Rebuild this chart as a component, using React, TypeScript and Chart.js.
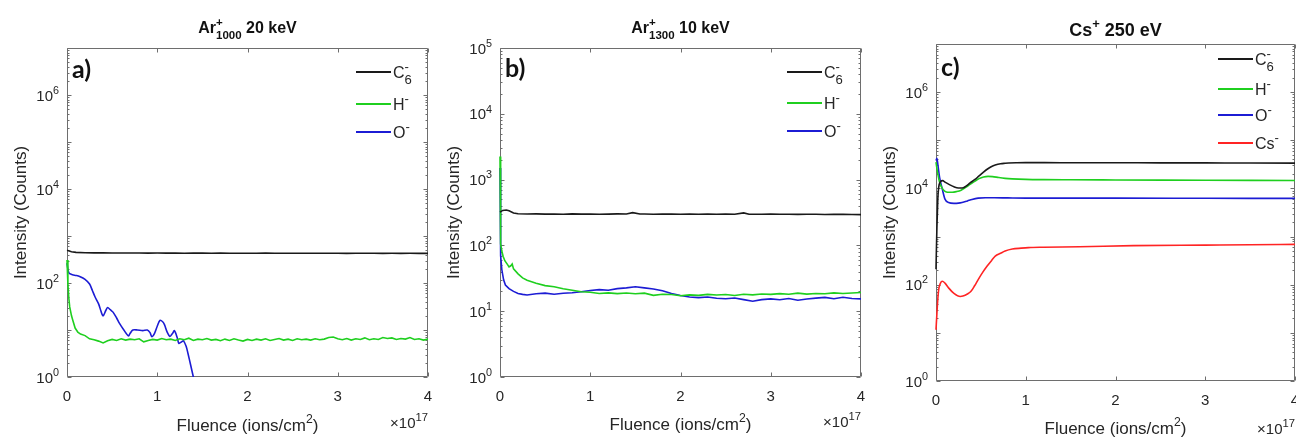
import React, { useEffect, useRef } from 'react';
import { Chart, registerables } from 'chart.js';

Chart.register(...registerables);

type Pt = [number, number];
type Seg = { t: string; m?: 'sup' | 'sub'; stack?: boolean };

// ---------- tick labels ----------
const xTickValues = [0, 1, 2, 3, 4];
const xTickLabels = ['0', '1', '2', '3', '4'];
const yTickExpsWide = [0, 2, 4, 6];
const yTickExpsNarrow = [0, 1, 2, 3, 4, 5];

// ---------- panel a: Ar1000+ 20 keV ----------
const aC6: Pt[] = [[0, 495], [0.05, 462], [0.1, 448], [0.2, 440], [0.3, 437], [0.4, 438], [0.5, 435], [0.6, 436], [0.7, 434], [0.8, 436], [0.9, 433], [1.0, 434], [1.1, 432], [1.2, 434], [1.3, 431], [1.4, 433], [1.5, 432], [1.6, 430], [1.7, 432], [1.8, 431], [1.9, 429], [2.0, 431], [2.1, 430], [2.2, 432], [2.3, 429], [2.4, 430], [2.5, 428], [2.6, 430], [2.7, 429], [2.8, 431], [2.9, 428], [3.0, 429], [3.1, 427], [3.2, 429], [3.3, 428], [3.4, 430], [3.5, 427], [3.6, 428], [3.7, 426], [3.8, 428], [3.9, 427], [4.0, 426]];
const aH: Pt[] = [[0, 310], [0.01, 95], [0.02, 48], [0.03, 31], [0.05, 20], [0.065, 16], [0.09, 11], [0.12, 9], [0.15, 8.2], [0.2, 7.6], [0.25, 6.5], [0.3, 6.2], [0.35, 5.8], [0.4, 5.3], [0.45, 5.9], [0.5, 6.3], [0.55, 6.0], [0.6, 6.5], [0.65, 6.1], [0.7, 6.4], [0.75, 6.2], [0.8, 6.5], [0.85, 5.6], [0.9, 6.0], [0.95, 6.3], [1.0, 6.1], [1.05, 6.6], [1.1, 6.2], [1.15, 6.4], [1.2, 6.0], [1.25, 6.5], [1.3, 6.2], [1.35, 6.7], [1.4, 6.0], [1.45, 6.4], [1.5, 6.2], [1.55, 6.6], [1.6, 6.1], [1.65, 6.3], [1.7, 5.9], [1.75, 6.4], [1.8, 6.0], [1.85, 6.5], [1.9, 6.1], [1.95, 5.8], [2.0, 6.3], [2.05, 6.0], [2.1, 6.4], [2.15, 6.1], [2.2, 6.5], [2.25, 6.0], [2.3, 6.3], [2.35, 6.6], [2.4, 6.1], [2.45, 6.4], [2.5, 6.0], [2.55, 6.5], [2.6, 6.2], [2.65, 6.4], [2.7, 6.1], [2.75, 6.5], [2.8, 6.2], [2.85, 6.4], [2.9, 6.9], [2.95, 7.1], [3.0, 6.5], [3.05, 6.2], [3.1, 6.6], [3.15, 6.1], [3.2, 6.5], [3.25, 6.3], [3.3, 6.8], [3.35, 6.2], [3.4, 6.5], [3.45, 6.3], [3.5, 6.9], [3.55, 6.6], [3.6, 6.8], [3.65, 6.3], [3.7, 6.6], [3.75, 6.4], [3.8, 6.9], [3.85, 6.3], [3.9, 6.5], [3.95, 6.1], [4.0, 6.4]];
const aO: Pt[] = [[0, 265], [0.02, 165], [0.06, 150], [0.1, 145], [0.14, 138], [0.2, 120], [0.25, 95], [0.28, 70], [0.31, 51], [0.35, 36], [0.38, 24], [0.4, 20], [0.43, 26], [0.45, 30], [0.48, 27], [0.51, 24], [0.55, 18], [0.58, 14], [0.63, 10], [0.68, 7.5], [0.7, 8.5], [0.73, 10], [0.78, 10], [0.84, 9.7], [0.89, 10], [0.92, 8.8], [0.94, 7.2], [0.97, 8.5], [1.0, 12], [1.03, 16], [1.06, 15], [1.08, 13], [1.11, 9], [1.14, 7.3], [1.17, 8.5], [1.19, 9.7], [1.22, 7], [1.24, 5.2], [1.27, 5.6], [1.29, 5.9], [1.32, 4.5], [1.34, 3.2], [1.37, 1.8], [1.4, 1.0], [1.42, 0.7]];

// ---------- panel b: Ar1300+ 10 keV ----------
const bC6: Pt[] = [[0, 320], [0.03, 340], [0.07, 345], [0.1, 335], [0.15, 310], [0.2, 302], [0.3, 300], [0.4, 301], [0.5, 299], [0.6, 300], [0.7, 298], [0.8, 301], [0.9, 299], [1.0, 300], [1.1, 298], [1.2, 299], [1.3, 301], [1.4, 300], [1.47, 315], [1.55, 300], [1.6, 300], [1.7, 298], [1.8, 300], [1.9, 299], [2.0, 297], [2.1, 299], [2.2, 298], [2.3, 300], [2.4, 297], [2.5, 299], [2.6, 298], [2.7, 312], [2.76, 298], [2.8, 298], [2.9, 297], [3.0, 299], [3.1, 297], [3.2, 298], [3.3, 296], [3.4, 298], [3.5, 297], [3.6, 295], [3.7, 297], [3.8, 296], [3.9, 295], [4.0, 294]];
const bH: Pt[] = [[0, 2250], [0.004, 500], [0.01, 105], [0.02, 82], [0.035, 68], [0.055, 58], [0.08, 52], [0.1, 47], [0.12, 49], [0.135, 52], [0.15, 44], [0.2, 37], [0.25, 32], [0.3, 29.5], [0.4, 26.5], [0.5, 24.5], [0.6, 23.5], [0.7, 22.0], [0.8, 20.8], [0.9, 19.8], [1.0, 19.4], [1.1, 18.6], [1.2, 19.0], [1.3, 18.5], [1.4, 18.9], [1.5, 18.4], [1.6, 18.8], [1.7, 17.4], [1.8, 18.1], [1.9, 17.9], [2.0, 17.2], [2.1, 17.7], [2.2, 17.4], [2.3, 18.0], [2.4, 17.6], [2.5, 17.9], [2.6, 17.3], [2.7, 18.1], [2.8, 17.7], [2.9, 18.3], [3.0, 18.0], [3.1, 18.5], [3.2, 18.1], [3.3, 18.8], [3.4, 18.2], [3.5, 18.6], [3.6, 18.4], [3.7, 19.0], [3.8, 18.6], [3.9, 18.9], [4.0, 19.2]];
const bO: Pt[] = [[0, 1500], [0.004, 250], [0.01, 70], [0.02, 43], [0.04, 30], [0.06, 25], [0.1, 22], [0.15, 20], [0.2, 18.6], [0.25, 18.0], [0.3, 17.6], [0.4, 18.4], [0.5, 18.8], [0.6, 18.1], [0.7, 18.7], [0.8, 19.1], [0.9, 19.8], [1.0, 20.6], [1.1, 21.3], [1.2, 20.8], [1.3, 22.0], [1.4, 22.6], [1.5, 23.5], [1.6, 22.6], [1.7, 21.8], [1.8, 20.4], [1.9, 18.6], [2.0, 17.3], [2.1, 16.4], [2.2, 16.1], [2.3, 16.4], [2.4, 15.7], [2.5, 15.5], [2.6, 15.9], [2.7, 15.0], [2.8, 14.2], [2.9, 15.0], [3.0, 15.4], [3.1, 14.9], [3.2, 15.6], [3.3, 14.7], [3.4, 15.3], [3.5, 15.8], [3.6, 16.2], [3.7, 15.5], [3.8, 16.3], [3.9, 15.6], [4.0, 15.4]];

// ---------- panel c: Cs+ 250 eV ----------
const cC6: Pt[] = [[0, 210], [0.01, 1500], [0.02, 6000], [0.03, 10500], [0.05, 13800], [0.075, 14500], [0.1, 13500], [0.15, 12000], [0.2, 10800], [0.25, 10200], [0.29, 10200], [0.33, 11000], [0.38, 13000], [0.43, 15200], [0.47, 17500], [0.52, 21000], [0.57, 25000], [0.62, 28500], [0.66, 30500], [0.72, 32500], [0.77, 33300], [0.81, 33800], [0.9, 34200], [1.0, 34300], [1.2, 34300], [1.5, 34200], [2.0, 34100], [2.5, 34000], [3.0, 33900], [3.5, 33800], [4.0, 33600]];
const cH: Pt[] = [[0, 35000], [0.02, 20000], [0.04, 13500], [0.07, 10000], [0.1, 8700], [0.13, 8300], [0.18, 8300], [0.23, 8600], [0.28, 9200], [0.33, 10500], [0.38, 12200], [0.43, 14000], [0.48, 16000], [0.53, 17300], [0.58, 17800], [0.63, 17600], [0.7, 16800], [0.77, 16200], [0.85, 15800], [1.0, 15400], [1.2, 15200], [1.5, 15100], [2.0, 15000], [3.0, 14800], [4.0, 14600]];
const cO: Pt[] = [[0, 38000], [0.01, 42000], [0.02, 32000], [0.04, 17000], [0.07, 9700], [0.1, 6000], [0.14, 5100], [0.2, 4900], [0.25, 4950], [0.29, 5100], [0.35, 5500], [0.4, 5900], [0.47, 6300], [0.55, 6400], [0.65, 6400], [0.8, 6350], [1.0, 6300], [1.5, 6300], [2.0, 6300], [3.0, 6250], [4.0, 6200]];
const cCs: Pt[] = [[0, 11.6], [0.01, 25], [0.02, 50], [0.03, 79], [0.05, 108], [0.07, 118], [0.1, 108], [0.14, 86], [0.2, 66], [0.27, 57], [0.3, 58], [0.35, 64], [0.39, 73], [0.43, 95], [0.47, 128], [0.52, 180], [0.57, 244], [0.62, 320], [0.66, 392], [0.72, 450], [0.77, 500], [0.85, 550], [0.95, 575], [1.03, 590], [1.2, 600], [1.6, 615], [2.2, 650], [3.0, 665], [3.5, 675], [4.0, 690]];

// ---------- styling ----------
const FONT = '"Liberation Sans", Arial, sans-serif';
const TEXT = '#262626';
const AXIS = '#6e6e6e';
const COL = { C6: '#1a1a1a', H: '#1fcf1f', O: '#1c1cd4', Cs: '#ff2424' };
const H = 438;

const lblC6: Seg[] = [{ t: 'C' }, { t: '-', m: 'sup', stack: true }, { t: '6', m: 'sub' }];
const lblH: Seg[] = [{ t: 'H' }, { t: '-', m: 'sup' }];
const lblO: Seg[] = [{ t: 'O' }, { t: '-', m: 'sup' }];
const lblCs: Seg[] = [{ t: 'Cs' }, { t: '-', m: 'sup' }];

interface SeriesCfg { name: string; segs: Seg[]; color: string; data: Pt[]; smooth: 'none' | 'tension' | 'mono' }
interface PanelCfg {
  key: string; left: number; w: number;
  area: { l: number; t: number; r: number; b: number };
  yMaxExp: number; yLabelExps: number[];
  title: Seg[]; titleSize: number; titleBase: number;
  letter: string; letterBase: number;
  legend: { x1: number; x2: number; rows: number[] };
  xTitleBase: number; expBase: number;
  series: SeriesCfg[];
}

function drawRich(ctx: CanvasRenderingContext2D, segs: Seg[], x: number, y: number, size: number, bold: boolean, align: 'left' | 'center' | 'right', color: string, ratio: number) {
  const f = (s: number) => `${bold ? 'bold ' : ''}${s}px ${FONT}`;
  const pieces: { t: string; x: number; dy: number; font: string }[] = [];
  let cx = 0;
  let pending = 0;
  for (const s of segs) {
    const sz = s.m ? size * ratio : size;
    const font = f(sz);
    ctx.font = font;
    const w = ctx.measureText(s.t).width;
    const dy = s.m === 'sup' ? -size * 0.45 : s.m === 'sub' ? size * 0.38 : 0;
    pieces.push({ t: s.t, x: cx, dy, font });
    if (s.stack) pending = w;
    else { cx += Math.max(w, pending); pending = 0; }
  }
  const x0 = align === 'center' ? x - cx / 2 : align === 'right' ? x - cx : x;
  ctx.fillStyle = color;
  ctx.textAlign = 'left';
  ctx.textBaseline = 'alphabetic';
  for (const p of pieces) { ctx.font = p.font; ctx.fillText(p.t, x0 + p.x, y + p.dy); }
}

function frame(chart: any, cfg: PanelCfg) {
  const ctx: CanvasRenderingContext2D = chart.ctx;
  const a = chart.chartArea;
  const xs = chart.scales.x;
  const ys = chart.scales.y;
  ctx.save();
  ctx.strokeStyle = AXIS;
  ctx.lineWidth = 1;
  const L = Math.round(a.left) + 0.5, R = Math.round(a.right) - 0.5;
  const T = Math.round(a.top) + 0.5, B = Math.round(a.bottom) - 0.5;
  ctx.beginPath();
  ctx.rect(L, T, R - L, B - T);
  for (const v of xTickValues) {
    const px = Math.round(xs.getPixelForValue(v)) + 0.5;
    ctx.moveTo(px, B); ctx.lineTo(px, B - 4);
    ctx.moveTo(px, T); ctx.lineTo(px, T + 4);
  }
  for (let e = 0; e <= cfg.yMaxExp; e++) {
    const py = Math.round(ys.getPixelForValue(Math.pow(10, e))) + 0.5;
    ctx.moveTo(L, py); ctx.lineTo(L + 4, py);
    ctx.moveTo(R, py); ctx.lineTo(R - 4, py);
    if (e < cfg.yMaxExp) {
      for (let k = 2; k <= 9; k++) {
        const pm = Math.round(ys.getPixelForValue(k * Math.pow(10, e))) + 0.5;
        ctx.moveTo(L, pm); ctx.lineTo(L + 2, pm);
        ctx.moveTo(R, pm); ctx.lineTo(R - 2, pm);
      }
    }
  }
  ctx.stroke();
  // y tick labels: 10 with superscript exponent
  for (const e of cfg.yLabelExps) {
    const py = ys.getPixelForValue(Math.pow(10, e));
    drawRich(ctx, [{ t: '10' }, { t: String(e), m: 'sup' }], a.left - 8, py + 5.5, 15, false, 'right', TEXT, 0.72);
  }
  ctx.restore();
}

function decor(cfg: PanelCfg) {
  return {
    id: 'decor_' + cfg.key,
    beforeDatasetsDraw(chart: any) {
      frame(chart, cfg);
    },
    afterDraw(chart: any) {
      const ctx: CanvasRenderingContext2D = chart.ctx;
      const a = chart.chartArea;
      ctx.save();
      // legend
      cfg.series.forEach((s, i) => {
        const y = cfg.legend.rows[i];
        ctx.strokeStyle = s.color;
        ctx.lineWidth = 2;
        ctx.beginPath();
        ctx.moveTo(cfg.legend.x1, y); ctx.lineTo(cfg.legend.x2, y);
        ctx.stroke();
        drawRich(ctx, s.segs, cfg.legend.x2 + 2, y + 6, 16, false, 'left', TEXT, 0.82);
      });

      // panel letter
      ctx.fillStyle = '#111';
      ctx.font = 'bold 25px Lato, "Open Sans", sans-serif';
      ctx.textAlign = 'left';
      ctx.textBaseline = 'alphabetic';
      ctx.fillText(cfg.letter, a.left + 5, cfg.letterBase);

      const cxm = (a.left + a.right) / 2;
      drawRich(ctx, cfg.title, cxm, cfg.titleBase, cfg.titleSize, true, 'center', '#111', 0.72);
      drawRich(ctx, [{ t: 'Fluence (ions/cm' }, { t: '2', m: 'sup' }, { t: ')' }], cxm, cfg.xTitleBase, 17, false, 'center', TEXT, 0.72);
      drawRich(ctx, [{ t: '×10' }, { t: '17', m: 'sup' }], a.right, cfg.expBase, 15, false, 'right', TEXT, 0.75);
      ctx.save();
      ctx.translate(a.left - 46, (a.top + a.bottom) / 2);
      ctx.rotate(-Math.PI / 2);
      ctx.font = `17px ${FONT}`;
      ctx.fillStyle = TEXT;
      ctx.textAlign = 'center';
      ctx.textBaseline = 'middle';
      ctx.fillText('Intensity (Counts)', 0, 0);
      ctx.restore();
      ctx.restore();
    },
  };
}

function buildConfig(cfg: PanelCfg): any {
  const { area, w } = cfg;
  return {
    type: 'line',
    data: {
      datasets: cfg.series.map((s) => ({
        label: s.name,
        data: s.data.map(([x, y]) => ({ x, y })),
        borderColor: s.color,
        backgroundColor: s.color,
        borderWidth: 1.6,
        pointRadius: 0,
        fill: false,
        clip: { left: 2, top: 0, right: 0, bottom: 0 },
        tension: s.smooth === 'tension' ? 0.3 : 0,
        cubicInterpolationMode: s.smooth === 'mono' ? 'monotone' : 'default',
      })),
    },
    options: {
      responsive: false,
      maintainAspectRatio: false,
      animation: false,
      devicePixelRatio: 1,
      layout: { padding: { left: 0, top: area.t, right: w - area.r, bottom: 0 } },
      plugins: { legend: { display: false }, tooltip: { enabled: false }, title: { display: false } },
      scales: {
        x: {
          type: 'linear', position: 'bottom', min: 0, max: 4,
          grid: { display: false, drawTicks: false },
          border: { display: false },
          ticks: {
            autoSkip: false, maxRotation: 0, padding: 11, color: TEXT,
            font: { family: FONT, size: 15 },
            callback: (v: number) => xTickLabels[xTickValues.indexOf(v)] ?? '',
          },
          afterBuildTicks: (s: any) => { s.ticks = xTickValues.map((v) => ({ value: v })); },
          afterFit: (s: any) => { s.height = H - area.b; s.paddingLeft = 0; s.paddingRight = 0; },
        },
        y: {
          type: 'logarithmic', position: 'left', min: 1, max: Math.pow(10, cfg.yMaxExp),
          grid: { display: false, drawTicks: false },
          border: { display: false },
          ticks: { display: false },
          afterBuildTicks: (s: any) => { s.ticks = cfg.yLabelExps.map((e) => ({ value: Math.pow(10, e) })); },
          afterFit: (s: any) => { s.width = area.l; s.paddingTop = 0; s.paddingBottom = 0; },
        },
      },
    },
    plugins: [decor(cfg)],
  };
}

const panels: PanelCfg[] = [
  {
    key: 'a', left: 0, w: 440,
    area: { l: 67, t: 48, r: 428, b: 377 },
    yMaxExp: 7, yLabelExps: yTickExpsWide,
    title: [{ t: 'Ar' }, { t: '+', m: 'sup', stack: true }, { t: '1000', m: 'sub' }, { t: ' 20 keV' }],
    titleSize: 16, titleBase: 33,
    letter: 'a)', letterBase: 78,
    legend: { x1: 356, x2: 391, rows: [72, 104, 132] },
    xTitleBase: 431, expBase: 428,
    series: [
      { name: 'C6-', segs: lblC6, color: COL.C6, data: aC6, smooth: 'none' },
      { name: 'H-', segs: lblH, color: COL.H, data: aH, smooth: 'none' },
      { name: 'O-', segs: lblO, color: COL.O, data: aO, smooth: 'tension' },
    ],
  },
  {
    key: 'b', left: 440, w: 430,
    area: { l: 60, t: 48, r: 421, b: 377 },
    yMaxExp: 5, yLabelExps: yTickExpsNarrow,
    title: [{ t: 'Ar' }, { t: '+', m: 'sup', stack: true }, { t: '1300', m: 'sub' }, { t: ' 10 keV' }],
    titleSize: 16, titleBase: 33,
    letter: 'b)', letterBase: 77,
    legend: { x1: 347, x2: 382, rows: [72, 103, 131] },
    xTitleBase: 430, expBase: 427,
    series: [
      { name: 'C6-', segs: lblC6, color: COL.C6, data: bC6, smooth: 'none' },
      { name: 'H-', segs: lblH, color: COL.H, data: bH, smooth: 'none' },
      { name: 'O-', segs: lblO, color: COL.O, data: bO, smooth: 'none' },
    ],
  },
  {
    key: 'c', left: 870, w: 426,
    area: { l: 66, t: 44, r: 425, b: 381 },
    yMaxExp: 7, yLabelExps: yTickExpsWide,
    title: [{ t: 'Cs' }, { t: '+', m: 'sup' }, { t: ' 250 eV' }],
    titleSize: 18, titleBase: 36,
    letter: 'c)', letterBase: 76,
    legend: { x1: 348, x2: 383, rows: [59, 89, 115, 143] },
    xTitleBase: 434, expBase: 434,
    series: [
      { name: 'C6-', segs: lblC6, color: COL.C6, data: cC6, smooth: 'mono' },
      { name: 'H-', segs: lblH, color: COL.H, data: cH, smooth: 'mono' },
      { name: 'O-', segs: lblO, color: COL.O, data: cO, smooth: 'mono' },
      { name: 'Cs-', segs: lblCs, color: COL.Cs, data: cCs, smooth: 'mono' },
    ],
  },
];

function Panel({ cfg }: { cfg: PanelCfg }) {
  const ref = useRef<HTMLCanvasElement>(null);
  useEffect(() => {
    const chart = new Chart(ref.current as HTMLCanvasElement, buildConfig(cfg));
    return () => chart.destroy();
  }, [cfg]);
  return (
    <canvas
      ref={ref}
      width={cfg.w}
      height={H}
      style={{ position: 'absolute', left: cfg.left, top: 0, width: cfg.w, height: H }}
    />
  );
}

export default function App() {
  return (
    <div style={{ position: 'absolute', left: 0, top: 0, width: 1296, height: H, background: '#fff', overflow: 'hidden' }}>
      {panels.map((p) => (
        <Panel key={p.key} cfg={p} />
      ))}
    </div>
  );
}
